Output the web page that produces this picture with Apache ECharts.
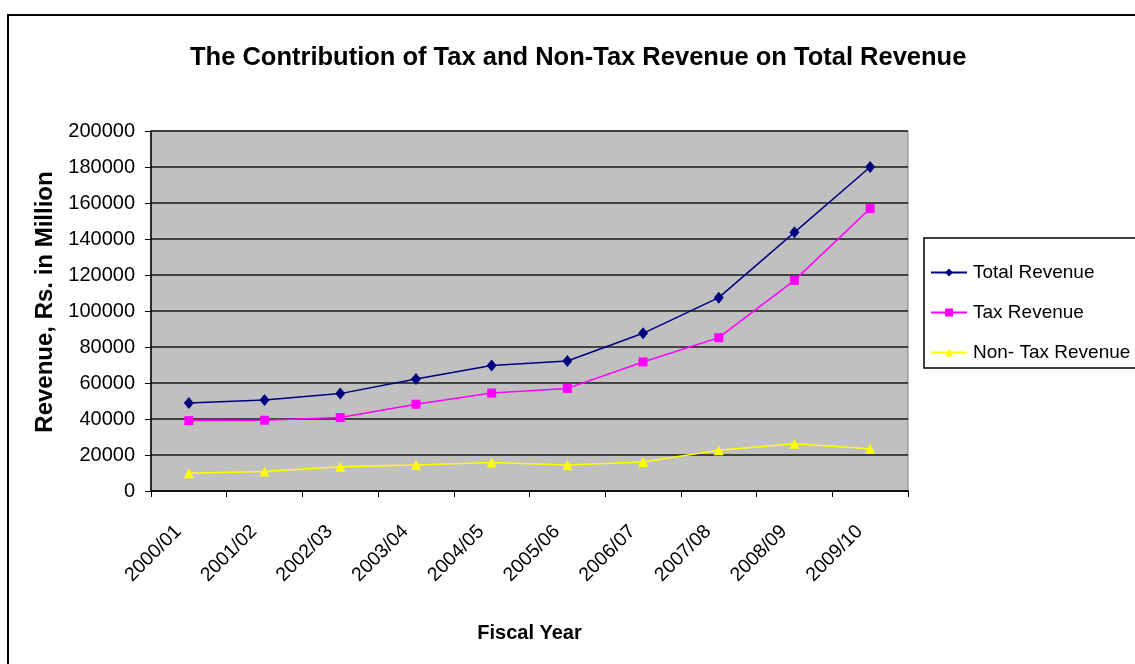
<!DOCTYPE html>
<html>
<head>
<meta charset="utf-8">
<title>The Contribution of Tax and Non-Tax Revenue on Total Revenue</title>
<script src="https://cdn.jsdelivr.net/npm/echarts@6/dist/echarts.min.js"></script>
<style>
  html, body { margin: 0; padding: 0; background: #ffffff; }
  #chart { width: 1135px; height: 664px; }
</style>
</head>
<body>
<div id="chart"></div>
<script>
// Fiscal years on the category axis
const fiscalYears = ['2000/01', '2001/02', '2002/03', '2003/04', '2004/05',
                     '2005/06', '2006/07', '2007/08', '2008/09', '2009/10'];

// Revenue, Rs. in Million
const totalRevenue  = [48900, 50600, 54100, 62200, 69700, 72200, 87600, 107400, 143700, 180000];
const taxRevenue    = [39100, 39300, 40800, 48200, 54400, 57000, 71700, 85200, 117000, 156900];
const nonTaxRevenue = [9800, 10800, 13500, 14500, 15900, 14500, 16100, 22600, 26300, 23500];

const seriesNames = ['Total Revenue', 'Tax Revenue', 'Non- Tax Revenue'];

const FONT = "'Liberation Sans', Arial, sans-serif";

const chart = echarts.init(document.getElementById('chart'), null, { renderer: 'canvas' });

chart.setOption({
  backgroundColor: '#ffffff',
  animation: false,
  title: {
    text: 'The Contribution of Tax and Non-Tax Revenue on Total Revenue',
    left: 185,
    top: 40,
    textStyle: { fontFamily: FONT, fontSize: 25.5, fontWeight: 'bold', color: '#000' }
  },
  graphic: [{
    type: 'rect',
    shape: { x: 8, y: 15, width: 1140, height: 660 },
    style: { fill: 'none', stroke: '#000', lineWidth: 2 },
    silent: true,
    z: -1
  }],
  legend: {
    orient: 'vertical',
    left: 924,
    top: 238,
    padding: [25, 20, 6, 6],
    itemGap: 21,
    itemWidth: 36,
    itemHeight: 10,
    borderColor: '#000',
    borderWidth: 1.5,
    backgroundColor: '#ffffff',
    textStyle: { fontFamily: FONT, fontSize: 19, color: '#000', padding: [0, 0, 0, 1] },
    data: seriesNames
  },
  grid: {
    left: 151,
    top: 131,
    width: 757,
    height: 360,
    show: true,
    backgroundColor: '#c0c0c0',
    borderColor: '#808080',
    borderWidth: 1
  },
  xAxis: {
    type: 'category',
    data: fiscalYears,
    boundaryGap: true,
    name: 'Fiscal Year',
    nameLocation: 'middle',
    nameGap: 132,
    nameTextStyle: { fontFamily: FONT, fontSize: 20, fontWeight: 'bold', color: '#000' },
    axisLine: { lineStyle: { color: '#000', width: 1.5 } },
    axisTick: { show: true, alignWithLabel: false, length: 6, lineStyle: { color: '#000', width: 1 } },
    axisLabel: {
      rotate: 45,
      margin: 27,
      padding: [0, 15, 0, 0],
      fontFamily: FONT,
      fontSize: 19.5,
      color: '#000'
    },
    splitLine: { show: false }
  },
  yAxis: {
    type: 'value',
    min: 0,
    max: 200000,
    interval: 20000,
    name: 'Revenue, Rs. in Million',
    nameLocation: 'middle',
    nameGap: 94,
    nameTextStyle: { fontFamily: FONT, fontSize: 24, fontWeight: 'bold', color: '#000', padding: [0, 0, 0, 18] },
    axisLine: { show: true, lineStyle: { color: '#000', width: 1.5 } },
    axisTick: { show: true, length: 6, lineStyle: { color: '#000', width: 1 } },
    axisLabel: {
      margin: 16,
      fontFamily: FONT,
      fontSize: 20,
      color: '#000',
      formatter: (v) => String(v)
    },
    splitLine: { show: true, lineStyle: { color: '#1a1a1a', width: 1.5 } }
  },
  series: [
    {
      name: seriesNames[0],
      type: 'line',
      data: totalRevenue,
      symbol: 'diamond',
      symbolSize: [10, 12],
      itemStyle: { color: '#000080' },
      lineStyle: { color: '#000080', width: 1.5 },
      z: 4
    },
    {
      name: seriesNames[1],
      type: 'line',
      data: taxRevenue,
      symbol: 'rect',
      symbolSize: 9,
      itemStyle: { color: '#ff00ff' },
      lineStyle: { color: '#ff00ff', width: 1.5 },
      z: 3
    },
    {
      name: seriesNames[2],
      type: 'line',
      data: nonTaxRevenue,
      symbol: 'triangle',
      symbolSize: [10, 10],
      itemStyle: { color: '#ffff00' },
      lineStyle: { color: '#ffff00', width: 1.5 },
      z: 2
    }
  ]
});
</script>
</body>
</html>
